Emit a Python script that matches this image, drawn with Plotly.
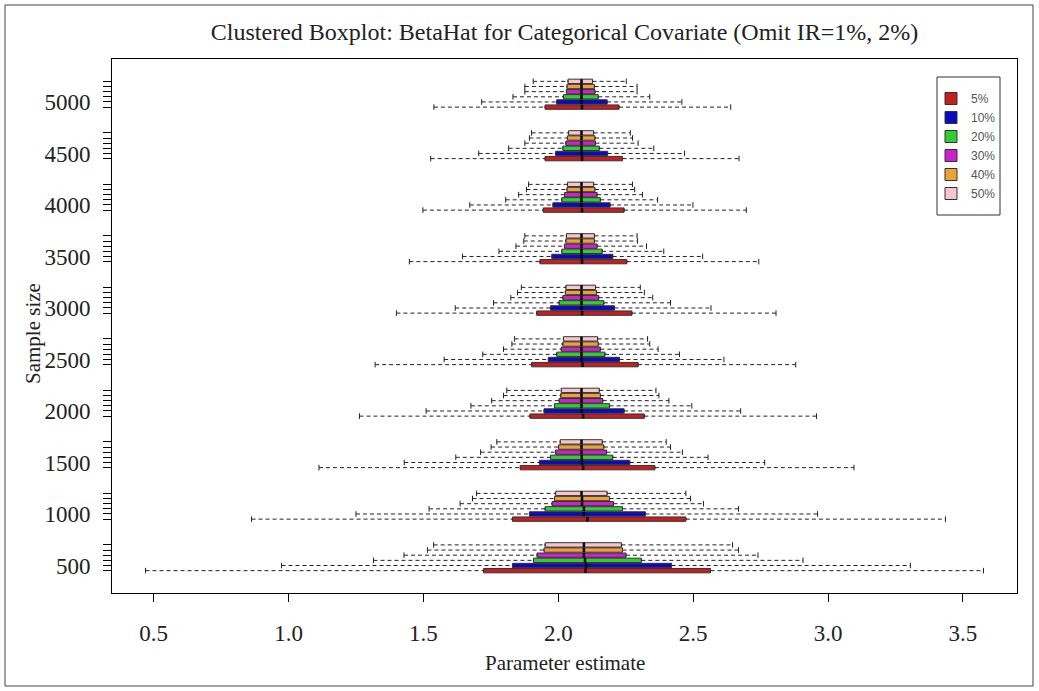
import plotly.graph_objects as go

# ---------------- data ----------------
sample_sizes = [500, 1000, 1500, 2000, 2500, 3000, 3500, 4000, 4500, 5000]
pct_labels = ["5%", "10%", "20%", "30%", "40%", "50%"]
x_ticks = [0.5, 1.0, 1.5, 2.0, 2.5, 3.0, 3.5]
x_tick_text = ["0.5", "1.0", "1.5", "2.0", "2.5", "3.0", "3.5"]

whisker_low = {
    "5%":  [0.470, 0.863, 1.113, 1.263, 1.321, 1.400, 1.448, 1.498, 1.527, 1.539],
    "10%": [0.974, 1.250, 1.429, 1.510, 1.577, 1.618, 1.645, 1.672, 1.705, 1.716],
    "20%": [1.315, 1.521, 1.620, 1.676, 1.720, 1.760, 1.780, 1.805, 1.816, 1.832],
    "30%": [1.428, 1.636, 1.712, 1.753, 1.797, 1.824, 1.843, 1.853, 1.876, 1.876],
    "40%": [1.515, 1.682, 1.751, 1.797, 1.828, 1.849, 1.872, 1.882, 1.893, 1.876],
    "50%": [1.538, 1.697, 1.772, 1.809, 1.838, 1.863, 1.876, 1.890, 1.901, 1.907],
}
q1 = {
    "5%":  [1.723, 1.830, 1.859, 1.895, 1.901, 1.920, 1.932, 1.944, 1.951, 1.951],
    "10%": [1.830, 1.893, 1.930, 1.947, 1.963, 1.971, 1.976, 1.980, 1.990, 1.994],
    "20%": [1.908, 1.951, 1.971, 1.986, 1.994, 2.003, 2.013, 2.013, 2.017, 2.019],
    "30%": [1.921, 1.977, 1.990, 2.003, 2.011, 2.017, 2.023, 2.023, 2.028, 2.030],
    "40%": [1.947, 1.986, 2.001, 2.009, 2.017, 2.026, 2.028, 2.032, 2.034, 2.032],
    "50%": [1.951, 1.990, 2.007, 2.011, 2.019, 2.028, 2.030, 2.034, 2.038, 2.036],
}
median = {
    "5%":  [2.101, 2.108, 2.092, 2.092, 2.090, 2.088, 2.088, 2.088, 2.088, 2.088],
    "10%": [2.103, 2.095, 2.088, 2.087, 2.086, 2.086, 2.086, 2.086, 2.086, 2.086],
    "20%": [2.099, 2.095, 2.087, 2.086, 2.086, 2.086, 2.086, 2.086, 2.086, 2.086],
    "30%": [2.095, 2.088, 2.086, 2.086, 2.086, 2.086, 2.086, 2.086, 2.086, 2.086],
    "40%": [2.095, 2.088, 2.086, 2.086, 2.086, 2.086, 2.086, 2.086, 2.086, 2.086],
    "50%": [2.095, 2.086, 2.086, 2.086, 2.086, 2.086, 2.086, 2.086, 2.086, 2.086],
}
q3 = {
    "5%":  [2.564, 2.473, 2.358, 2.319, 2.296, 2.273, 2.254, 2.244, 2.238, 2.225],
    "10%": [2.420, 2.323, 2.265, 2.244, 2.227, 2.208, 2.202, 2.192, 2.183, 2.181],
    "20%": [2.308, 2.238, 2.202, 2.190, 2.173, 2.169, 2.163, 2.156, 2.152, 2.148],
    "30%": [2.251, 2.205, 2.179, 2.165, 2.156, 2.150, 2.144, 2.144, 2.138, 2.136],
    "40%": [2.238, 2.190, 2.169, 2.156, 2.148, 2.142, 2.134, 2.136, 2.136, 2.134],
    "50%": [2.234, 2.181, 2.163, 2.152, 2.146, 2.138, 2.134, 2.131, 2.131, 2.127],
}
whisker_high = {
    "5%":  [3.576, 3.435, 3.096, 2.957, 2.880, 2.807, 2.743, 2.697, 2.670, 2.639],
    "10%": [3.305, 2.961, 2.765, 2.676, 2.614, 2.566, 2.535, 2.499, 2.468, 2.458],
    "20%": [2.907, 2.668, 2.555, 2.495, 2.449, 2.416, 2.391, 2.368, 2.354, 2.339],
    "30%": [2.740, 2.538, 2.460, 2.410, 2.370, 2.350, 2.327, 2.312, 2.296, 2.292],
    "40%": [2.668, 2.490, 2.416, 2.373, 2.339, 2.319, 2.294, 2.283, 2.275, 2.292],
    "50%": [2.646, 2.473, 2.400, 2.362, 2.331, 2.304, 2.292, 2.275, 2.267, 2.252],
}

colors = {"5%": "#C41E1E", "10%": "#0A0ABF", "20%": "#33CC33",
          "30%": "#CC22CC", "40%": "#E8A435", "50%": "#F6C6CF"}

# ---------------- layout geometry ----------------
W, H = 1039, 691
L, R, T, B = 112, 22, 59, 98
PW, PH = W - L - R, H - T - B
GROUP_STEP = 10
BOX_W = 0.85
SERIF = "Liberation Serif, Times New Roman, serif"


def px_to_paper(px, py):
    return (px - L) / PW, (H - B - py) / PH


def pos(g, j):
    return g * GROUP_STEP + j


fig = go.Figure()

for j, p in enumerate(pct_labels):
    ys = [pos(g, j) for g in range(len(sample_sizes))]
    fig.add_trace(go.Box(
        name=p, orientation="h", y=ys,
        q1=q1[p], median=median[p], q3=q3[p],
        lowerfence=q1[p], upperfence=q3[p],
        width=BOX_W, fillcolor=colors[p],
        line=dict(color="#333333", width=1),
        hoverinfo="skip", showlegend=True,
    ))

for j, p in enumerate(pct_labels):
    xs, ys = [], []
    cx, cy = [], []
    for g in range(len(sample_sizes)):
        yy = pos(g, j)
        xs += [whisker_low[p][g], q1[p][g], None, q3[p][g], whisker_high[p][g], None]
        ys += [yy, yy, None, yy, yy, None]
        cx += [whisker_low[p][g], whisker_high[p][g]]
        cy += [yy, yy]
    fig.add_trace(go.Scatter(x=xs, y=ys, mode="lines",
                             line=dict(color="#222222", width=1, dash="4px,3px"),
                             showlegend=False, hoverinfo="skip"))
    fig.add_trace(go.Scatter(x=cx, y=cy, mode="markers",
                             marker=dict(symbol="line-ns", size=4,
                                         line=dict(color="#222222", width=1)),
                             showlegend=False, hoverinfo="skip"))

# median lines
mx, my = [], []
for j, p in enumerate(pct_labels):
    for g in range(len(sample_sizes)):
        yy = pos(g, j)
        mx += [median[p][g], median[p][g], None]
        my += [yy - BOX_W / 2, yy + BOX_W / 2, None]
fig.add_trace(go.Scatter(x=mx, y=my, mode="lines",
                         line=dict(color="black", width=2.5),
                         showlegend=False, hoverinfo="skip"))

# axis ranges like R (4% extension)
all_lo = min(min(v) for v in whisker_low.values())
all_hi = max(max(v) for v in whisker_high.values())
span = all_hi - all_lo
x_range = [all_lo - 0.04 * span, all_hi + 0.04 * span]
y_min = pos(0, 0) - 0.5
y_max = pos(len(sample_sizes) - 1, len(pct_labels) - 1) + 0.5
ysp = y_max - y_min
y_range = [y_min - 0.04 * ysp, y_max + 0.04 * ysp]

ytickvals, yticktext = [], []
for g, s in enumerate(sample_sizes):
    for j in range(len(pct_labels)):
        ytickvals.append(pos(g, j))
        yticktext.append(str(s) if j == 1 else "")

fig.update_layout(
    width=W, height=H,
    margin=dict(l=L, r=R, t=T, b=B),
    paper_bgcolor="white", plot_bgcolor="white",
    title=dict(text="Clustered Boxplot: BetaHat for Categorical Covariate (Omit IR=1%, 2%)",
               x=(L + PW / 2) / W, xanchor="center", y=1 - 32 / H, yanchor="middle",
               font=dict(family=SERIF, size=24, color="#222222")),
    xaxis=dict(range=x_range, tickmode="array", tickvals=x_ticks, ticktext=x_tick_text,
               ticks="outside", ticklen=8, tickcolor="black", showgrid=False,
               zeroline=False, showline=True, mirror=True, linecolor="black",
               linewidth=1, ticklabelstandoff=11,
               tickfont=dict(family=SERIF, size=23, color="#222222")),
    yaxis=dict(range=y_range, tickmode="array", tickvals=ytickvals, ticktext=yticktext,
               ticks="outside", ticklen=8, tickcolor="black", showgrid=False,
               zeroline=False, showline=True, mirror=True, linecolor="black",
               linewidth=1, ticklabelstandoff=8,
               tickfont=dict(family=SERIF, size=23, color="#222222")),
    legend=dict(x=px_to_paper(931, 0)[0], y=px_to_paper(0, 84)[1],
                xanchor="left", yanchor="top", bgcolor="rgba(0,0,0,0)",
                borderwidth=0, tracegroupgap=0,
                font=dict(family="Liberation Sans, Arial, sans-serif", size=12, color="#555555")),
    showlegend=True,
)

# axis titles
ax_x, ax_y = px_to_paper(L + PW / 2, 663)
fig.add_annotation(text="Parameter estimate", xref="paper", yref="paper",
                   x=ax_x, y=ax_y, xanchor="center", yanchor="middle", showarrow=False,
                   font=dict(family=SERIF, size=21, color="#222222"))
ay_x, ay_y = px_to_paper(33, 334)
fig.add_annotation(text="Sample size", xref="paper", yref="paper",
                   x=ay_x, y=ay_y, xanchor="center", yanchor="middle", showarrow=False,
                   textangle=-90, font=dict(family=SERIF, size=21, color="#222222"))

# legend frame and outer figure frame
lx0, ly0 = px_to_paper(937, 215)
lx1, ly1 = px_to_paper(1000, 77)
fig.add_shape(type="rect", xref="paper", yref="paper", x0=lx0, y0=ly0, x1=lx1, y1=ly1,
              line=dict(color="#333333", width=1), layer="above")
fx0, fy0 = px_to_paper(5, 686)
fx1, fy1 = px_to_paper(1033, 5)
fig.add_shape(type="rect", xref="paper", yref="paper", x0=fx0, y0=fy0, x1=fx1, y1=fy1,
              line=dict(color="#444444", width=1), layer="above")

fig.write_html("out.html", config={"displayModeBar": False},
               post_script="document.body.style.margin='0';document.body.style.overflow='hidden';")
